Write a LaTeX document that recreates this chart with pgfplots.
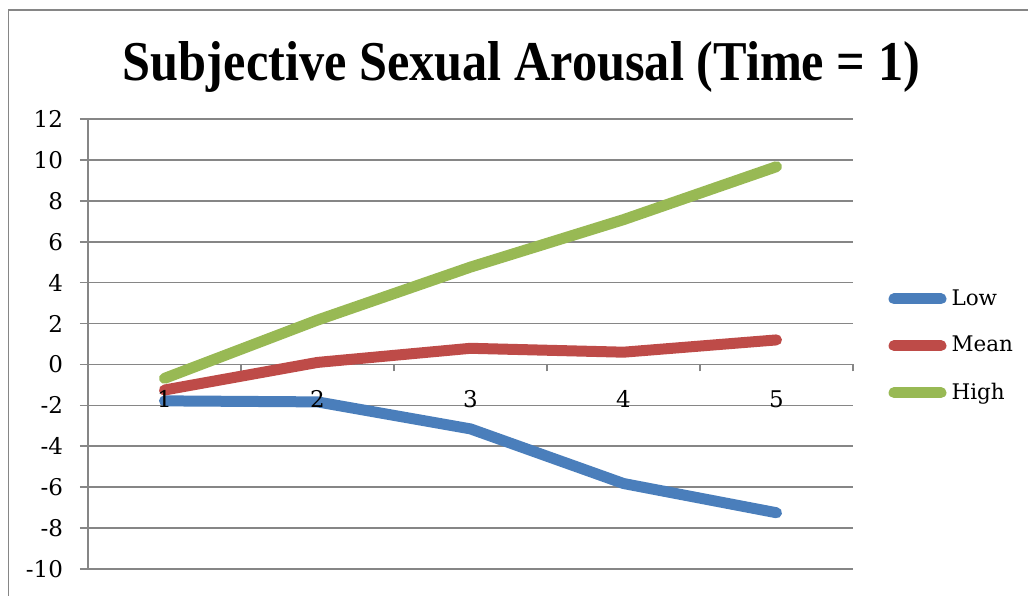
\documentclass[border=0pt]{standalone}
\usepackage{pgfplots}
\pgfplotsset{compat=1.18}
\usepackage{fontspec}
\setmainfont{DejaVu Serif}
\newfontfamily\titlefont{Liberation Serif}

\definecolor{lowblue}{HTML}{4A7EBB}
\definecolor{meanred}{HTML}{BE4B48}
\definecolor{highgreen}{HTML}{98B954}
\definecolor{gridgray}{HTML}{868686}

% shared geometry of the plot area
\pgfplotsset{
  plotarea/.style={
    at={(44pt,-284.5pt)}, anchor=south west,
    scale only axis, width=382.5pt, height=225pt,
    xmin=0.5, xmax=5.5, ymin=-10, ymax=12,
    /pgf/number format/assume math mode=true,
    ticklabel style={font=\fontsize{11.5}{13}\selectfont},
  },
}

\begin{document}
\begin{tikzpicture}
\useasboundingbox (0pt,0pt) rectangle (514pt,-297.5pt);
% chart area frame
\draw[gridgray, line width=0.8pt] (4.25pt,-300pt) -- (4.25pt,-5pt) -- (520pt,-5pt);
% title
\node[anchor=base, inner sep=0pt] at (260.75pt,-40pt)
  {\resizebox{398.5pt}{19.5pt}{\titlefont\bfseries Subjective Sexual Arousal (Time = 1)}};

\begin{axis}[
  plotarea,
  axis x line*=middle, axis y line*=left,
  axis line style={gridgray, line width=0.8pt},
  ytick={-10,-8,...,12},
  ymajorgrids, grid style={gridgray, line width=0.8pt},
  xtick={1,2,3,4,5}, xticklabels={},
  minor xtick={0.5,1.5,2.5,3.5,4.5,5.5},
  major x tick style={draw=none},
  minor x tick style={gridgray, line width=0.8pt},
  major y tick style={gridgray, line width=0.8pt},
  tick align=outside,
  major tick length=4pt, minor tick length=3.5pt,
  yticklabel style={xshift=-5pt},
  clip=false,
  legend style={at={(1.0464,0.4956)}, anchor=west, draw=none, fill=none,
    inner sep=0pt, outer sep=0pt,
    font=\fontsize{10.75}{12}\selectfont, row sep=14pt,
    nodes={inner sep=0pt}},
  legend cell align=left,
  legend image code/.code={\draw[#1, line width=5.5pt, line cap=round] (0pt,0pt) -- (23.5pt,0pt);},
  /tikz/every odd column/.append style={column sep=2.5pt},
  every axis plot/.append style={line width=5.5pt, line cap=round, line join=round},
]
\addplot[lowblue] coordinates {(1,-1.78) (2,-1.83) (3,-3.15) (4,-5.82) (5,-7.25)};
\addlegendentry{Low}
\addplot[meanred] coordinates {(1,-1.25) (2,0.1) (3,0.79) (4,0.6) (5,1.2)};
\addlegendentry{Mean}
\addplot[highgreen] coordinates {(1,-0.68) (2,2.17) (3,4.76) (4,7.08) (5,9.67)};
\addlegendentry{High}
\end{axis}

% category labels, set over the data lines
\begin{axis}[
  plotarea,
  axis x line*=middle, hide y axis,
  axis line style={draw=none},
  xtick={1,2,3,4,5},
  major x tick style={draw=none},
  xticklabel style={anchor=north, yshift=-9.5pt},
]
\end{axis}
\end{tikzpicture}
\end{document}
